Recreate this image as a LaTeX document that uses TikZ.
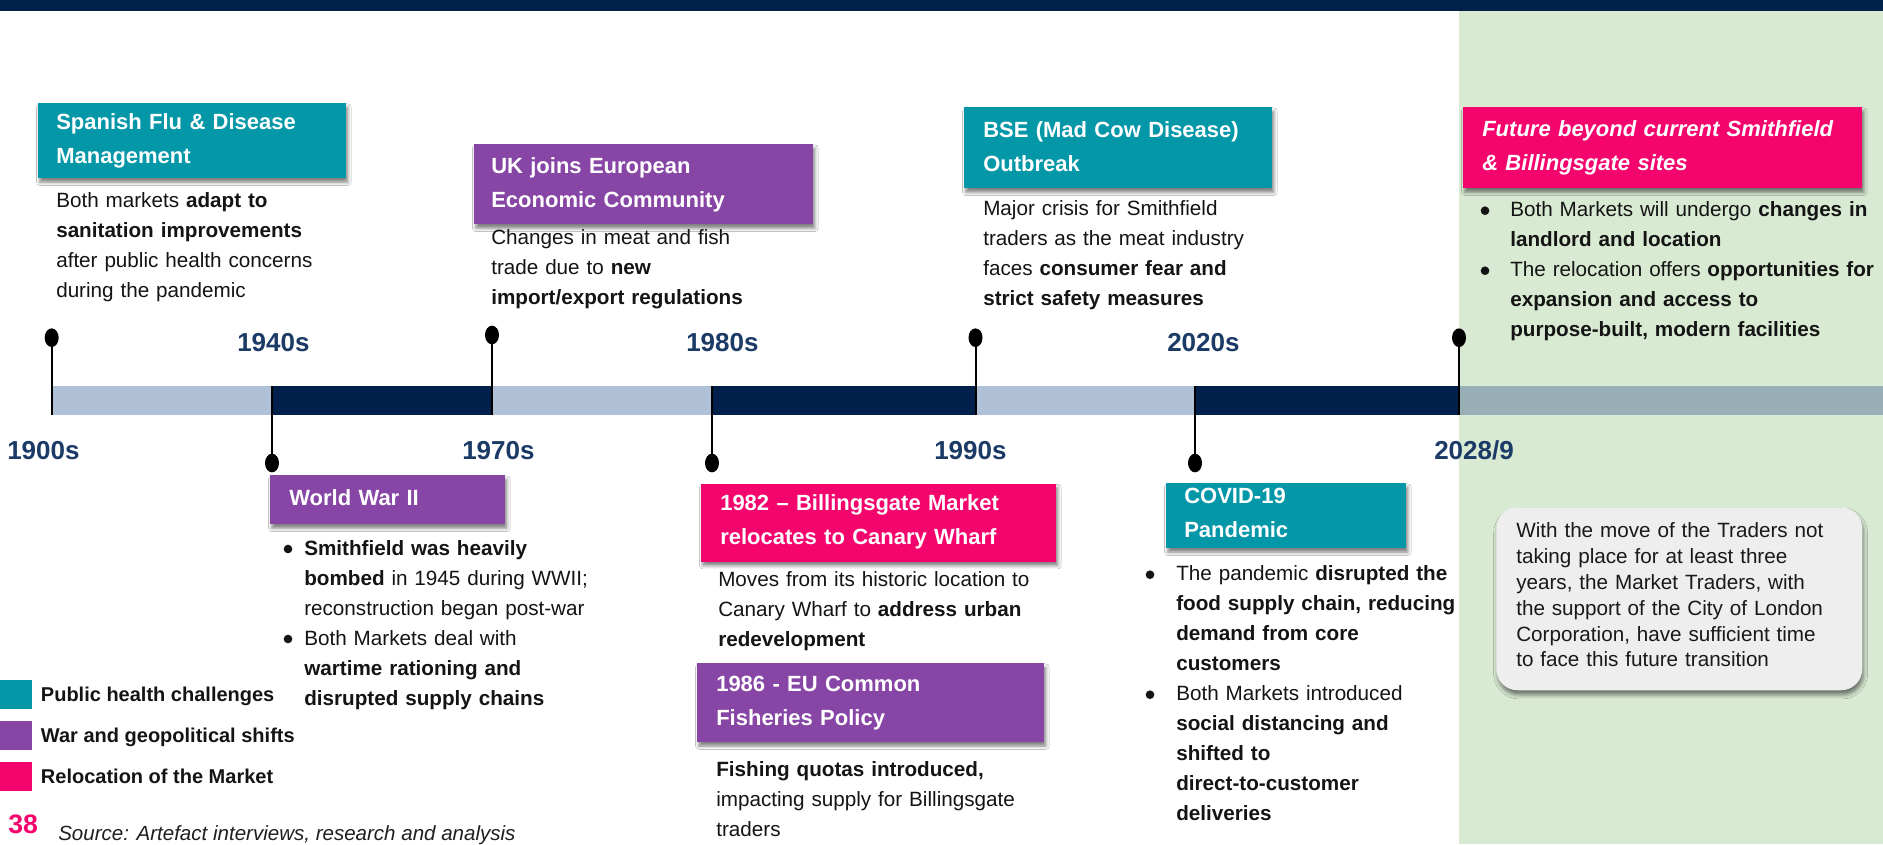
\documentclass[tikz,border=0pt]{standalone}
\usepackage{fontspec}
\setmainfont{Liberation Sans}
\usetikzlibrary{shapes.geometric,shadows.blur}
\definecolor{topnavy}{HTML}{00214A}
\definecolor{barlight}{HTML}{B0C0D6}
\definecolor{bardark}{HTML}{00204B}
\definecolor{bargreen}{HTML}{98AFB5}
\definecolor{greenbg}{HTML}{D9EAD3}
\definecolor{cteal}{HTML}{0497A7}
\definecolor{cpurple}{HTML}{8746A5}
\definecolor{cpink}{HTML}{F3056D}
\definecolor{yearc}{HTML}{1B3A66}
\definecolor{notegray}{HTML}{EEEEEE}
\newcommand\fTitle{\fontsize{16.5}{25.5}\selectfont\bfseries}
\newcommand\fBody{\fontsize{15.5}{22.5}\selectfont}
\newcommand\fNote{\fontsize{15.5}{19.35}\selectfont}
\newcommand\fYear{\fontsize{19.5}{23}\selectfont\bfseries}
\newcommand\fLeg{\fontsize{15}{18}\selectfont\bfseries}
\newcommand\firsth[1]{\rule{0pt}{#1}}
\newcommand\lastd[1]{\rule[-#1]{0pt}{#1}}
\begin{document}
\begin{tikzpicture}[x=0.75pt,y=-0.75pt,
  tbox/.style={anchor=north west, inner ysep=0pt, align=left, text=white, font=\fTitle,
    blur shadow={shadow xshift=1.2pt, shadow yshift=-3pt, shadow blur radius=2.5pt, shadow opacity=50}},
  desc/.style={anchor=base west, inner sep=0pt, align=left, text width=330pt, font=\fBody, text=black!92},
  year/.style={anchor=base west, inner sep=0pt, font=\fYear, text=yearc},
  pinhead/.style={ellipse, fill=black, inner sep=0pt, minimum width=10.5pt, minimum height=14pt},
  pinline/.style={line width=1.5pt, black},
  bulletdot/.style={circle, fill=black!92, inner sep=0pt, minimum size=6.5pt},
  legsq/.style={anchor=north west, inner sep=0pt, minimum width=24pt, minimum height=21.75pt},
  legtext/.style={anchor=base west, inner sep=0pt, font=\fLeg, text=black!92},
  notebox/.style={anchor=north west, fill=notegray, rounded corners=16pt, inner xsep=15pt, inner ysep=0pt,
    text width=244.5pt, align=left, font=\fNote, text=black!90,
    blur shadow={shadow xshift=1pt, shadow yshift=-3.5pt, shadow blur radius=3pt, shadow opacity=50}}
]
\useasboundingbox (0,0) rectangle (1883,844);
\fill[white] (0,0) rectangle (1883,844);
\fill[greenbg] (1459,11) rectangle (1883,844);
\fill[topnavy] (0,0) rectangle (1883,11);

% timeline bar
\fill[barlight] (51.7,386) rectangle (272,414.5);
\fill[bardark] (272,386) rectangle (492,414.5);
\fill[barlight] (492,386) rectangle (712,414.5);
\fill[bardark] (712,386) rectangle (975.5,414.5);
\fill[barlight] (975.5,386) rectangle (1195,414.5);
\fill[bardark] (1195,386) rectangle (1459,414.5);
\fill[bargreen] (1459,386) rectangle (1883,414.5);

% pins above
\coordinate (b1) at (51.7,414.5);
\coordinate (b2) at (492,414.5);
\coordinate (b3) at (975.5,414.5);
\coordinate (b4) at (1459,414.5);
\node[pinhead] (h1) at (51.7,337.7) {};
\node[pinhead] (h2) at (492,335) {};
\node[pinhead] (h3) at (975.5,337.7) {};
\node[pinhead] (h4) at (1459,337.7) {};
\draw[pinline] (h1.center) -- (b1);
\draw[pinline] (h2.center) -- (b2);
\draw[pinline] (h3.center) -- (b3);
\draw[pinline] (h4.center) -- (b4);
% pins below
\coordinate (t1) at (272,386);
\coordinate (t2) at (712,386);
\coordinate (t3) at (1195,386);
\node[pinhead] (d1) at (272,463) {};
\node[pinhead] (d2) at (712,463) {};
\node[pinhead] (d3) at (1195,463) {};
\draw[pinline] (t1) -- (d1.center);
\draw[pinline] (t2) -- (d2.center);
\draw[pinline] (t3) -- (d3.center);

% year labels
\node[year] (y1940) at (237,351.7) {1940s};
\node[year] (y1980) at (686,351.7) {1980s};
\node[year] (y2020) at (1167,351.7) {2020s};
\node[year] (y1900) at (7,459.3) {1900s};
\node[year] (y1970) at (462,459.3) {1970s};
\node[year] (y1990) at (934,459.3) {1990s};
\node[year] (y2028) at (1434,459.3) {2028/9};

% upper events
\node[tbox, fill=cteal, text width=204pt, inner xsep=13.5pt] (flu) at (38,103)
  {\firsth{19.7pt}Spanish Flu \& Disease\\Management\lastd{11pt}};
\node[desc] (fludesc) at (56,207.7)
  {Both markets \textbf{adapt to}\\\textbf{sanitation improvements}\\after public health concerns\\during the pandemic};

\node[tbox, fill=cpurple, text width=228.75pt, inner xsep=12.75pt] (eec) at (474,144)
  {\firsth{22.1pt}UK joins European\\Economic Community\lastd{12.4pt}};
\node[desc] (eecdesc) at (491,244.5)
  {Changes in meat and fish\\trade due to \textbf{new}\\\textbf{import/export regulations}};

\node[tbox, fill=cteal, text width=202.5pt, inner xsep=14.25pt] (bse) at (964,107)
  {\firsth{22.3pt}BSE (Mad Cow Disease)\\Outbreak\lastd{13pt}};
\node[desc] (bsedesc) at (983,215)
  {Major crisis for Smithfield\\traders as the meat industry\\faces \textbf{consumer fear and}\\\textbf{strict safety measures}};

\node[tbox, fill=cpink, text width=270.75pt, inner xsep=14.25pt, font=\fTitle\itshape] (fut) at (1463,107)
  {\firsth{21.75pt}Future beyond current Smithfield\\\& Billingsgate sites\lastd{13.5pt}};
\node[bulletdot] (fdot1) at (1485,210.7) {};
\node[bulletdot] (fdot2) at (1485,270.7) {};
\node[desc] (futa) at (1510,216.7)
  {Both Markets will undergo \textbf{changes in}\\\textbf{landlord and location}};
\node[desc] (futb) at (1510,276.7)
  {The relocation offers \textbf{opportunities for}\\\textbf{expansion and access to}\\\textbf{purpose-built, modern facilities}};

% lower events
\node[tbox, fill=cpurple, text width=147.75pt, inner xsep=14.25pt] (ww2) at (270,475)
  {\firsth{22.5pt}World War II\lastd{14.25pt}};
\node[bulletdot] (wdot1) at (288,549) {};
\node[bulletdot] (wdot2) at (288,639) {};
\node[desc] (ww2a) at (304,555)
  {\textbf{Smithfield was heavily}\\\textbf{bombed} in 1945 during WWII;\\reconstruction began post-war};
\node[desc] (ww2b) at (304,645)
  {Both Markets deal with\\\textbf{wartime rationing and}\\\textbf{disrupted supply chains}};

\node[tbox, fill=cpink, text width=237.75pt, inner xsep=14.25pt] (bill) at (701,483.3)
  {\firsth{20.55pt}1982 – Billingsgate Market\\relocates to Canary Wharf\lastd{12.5pt}};
\node[desc] (billdesc) at (718,586.7)
  {Moves from its historic location to\\Canary Wharf to \textbf{address urban}\\\textbf{redevelopment}};

\node[tbox, fill=cpurple, text width=231.75pt, inner xsep=14.25pt] (cfp) at (697,663)
  {\firsth{20.8pt}1986 - EU Common\\Fisheries Policy\lastd{12.75pt}};
\node[desc] (cfpdesc) at (716,776)
  {\textbf{Fishing quotas introduced,}\\impacting supply for Billingsgate\\traders};

\node[tbox, fill=cteal, text width=153pt, inner xsep=13.5pt] (covid) at (1166,483)
  {\firsth{15.2pt}COVID-19\\Pandemic\lastd{8pt}};
\node[bulletdot] (cdot1) at (1150,574.7) {};
\node[bulletdot] (cdot2) at (1150,694.7) {};
\node[desc] (covida) at (1176,580.7)
  {The pandemic \textbf{disrupted the}\\\textbf{food supply chain, reducing}\\\textbf{demand from core}\\\textbf{customers}};
\node[desc] (covidb) at (1176,700.7)
  {Both Markets introduced\\\textbf{social distancing and}\\\textbf{shifted to}\\\textbf{direct-to-customer}\\\textbf{deliveries}};

% note
\node[notebox] (note) at (1496,507)
  {\firsth{23pt}With the move of the Traders not\\taking place for at least three\\years, the Market Traders, with\\the support of the City of London\\Corporation, have sufficient time\\to face this future transition\lastd{17.5pt}};

% legend
\node[legsq, fill=cteal] (lg1) at (0,680) {};
\node[legsq, fill=cpurple] (lg2) at (0,721) {};
\node[legsq, fill=cpink] (lg3) at (0,762) {};
\node[legtext] (lt1) at (40.7,701.7) {Public health challenges};
\node[legtext] (lt2) at (40.7,742.7) {War and geopolitical shifts};
\node[legtext] (lt3) at (40.7,783.3) {Relocation of the Market};

% footer
\node[anchor=base west, inner sep=0pt, font=\fontsize{20}{24}\selectfont\bfseries, text=cpink] (page) at (8,833.3) {38};
\node[anchor=base west, inner sep=0pt, font=\fontsize{15.4}{18}\selectfont\itshape, text=black!88] (src) at (58,840) {Source: Artefact interviews, research and analysis};
\end{tikzpicture}
\end{document}
